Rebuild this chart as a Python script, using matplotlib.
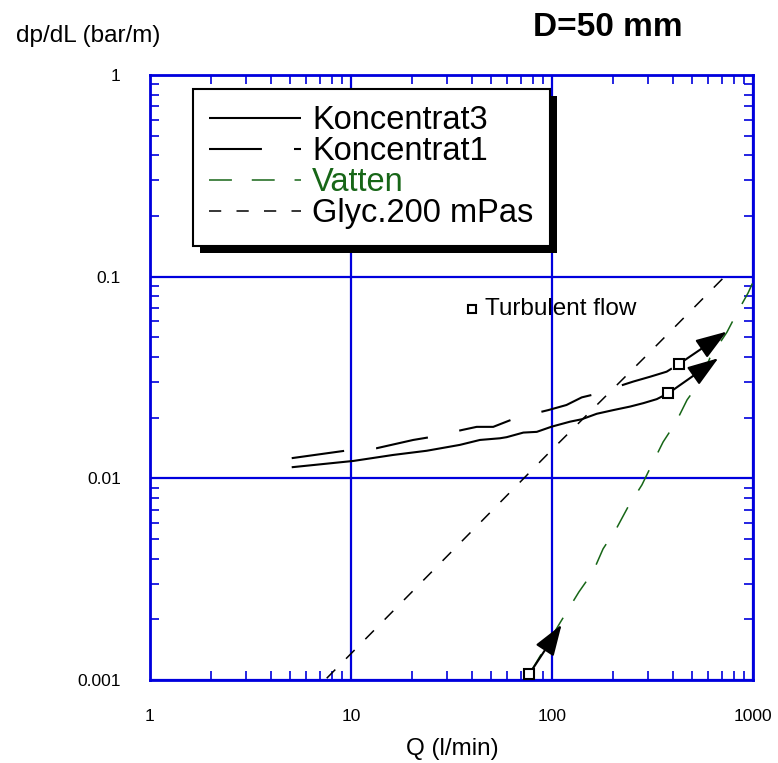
import matplotlib
matplotlib.use('Agg')
import matplotlib.pyplot as plt
from matplotlib.patches import Rectangle
from matplotlib.ticker import FixedLocator, FixedFormatter, LogLocator

plt.rcParams['font.family'] = ['Liberation Sans', 'DejaVu Sans']

# ---------------- data ----------------
k3_q = [5.07, 10.3, 16.2, 23.8, 34.8, 43.8, 55.1, 59.5, 72, 84, 99.6, 123, 140.6, 167, 202, 245, 285, 332, 379]
k3_dp = [0.01135, 0.0122, 0.01306, 0.0137, 0.01465, 0.0155, 0.0158, 0.0160, 0.01686, 0.0170, 0.01804,
         0.0191, 0.01963, 0.0209, 0.0218, 0.0227, 0.0236, 0.0247, 0.0264]

k1_q = [5.07, 9.33, 13.4, 20.4, 24.7, 36, 42.2, 51, 66, 95.9, 118, 140.6, 157.5, 254, 307.6, 372, 428.5]
k1_dp = [0.01259, 0.0137, 0.0141, 0.0155, 0.0160, 0.0174, 0.0180, 0.0180, 0.0199, 0.0218, 0.0231,
         0.0252, 0.0259, 0.0302, 0.0319, 0.0338, 0.0369]

vat_q = [77.1, 109.6, 136, 160, 179.5, 210, 239, 280, 315, 357, 414, 470, 545, 611, 743, 832, 945, 1000]
vat_dp = [0.00107, 0.00192, 0.00273, 0.00344, 0.00447, 0.00568, 0.00722, 0.00927, 0.01178, 0.01514,
          0.0190, 0.0245, 0.0301, 0.0396, 0.0532, 0.0661, 0.0830, 0.094]

gly_q = [7.57, 20, 100, 300, 717]
gly_dp = [0.00102, 0.00272, 0.01387, 0.0413, 0.0993]

turb_q = [77.1, 379, 428.5]
turb_dp = [0.00107, 0.0264, 0.0369]
arrow_q = [111.6, 672, 740]
arrow_dp = [0.00188, 0.0394, 0.0534]

x_ticks = [1, 10, 100, 1000]
x_labels = ['1', '10', '100', '1000']
y_ticks = [0.001, 0.01, 0.1, 1]
y_labels = ['0.001', '0.01', '0.1', '1']

series_labels = ['Koncentrat3', 'Koncentrat1', 'Vatten', 'Glyc.200 mPas']

# ---------------- styling ----------------
BLUE = '#0000DD'
GREEN = '#176617'

fig = plt.figure(figsize=(7.78, 7.63), dpi=100)
ax = fig.add_axes([150 / 778, 83 / 763, 603 / 778, 605 / 763])
ax.set_xscale('log')
ax.set_yscale('log')

l3, = ax.plot(k3_q, k3_dp, color='k', lw=1.5, solid_capstyle='butt', zorder=3)
l1, = ax.plot(k1_q, k1_dp, color='k', lw=1.5, linestyle=(0, (25.4, 15.4)), zorder=3)
lv, = ax.plot(vat_q, vat_dp, color=GREEN, lw=1.1, linestyle=(0, (15, 13)), zorder=3)
lg, = ax.plot(gly_q, gly_dp, color='k', lw=1.1, linestyle=(0, (8, 10)), zorder=3)

for q0, d0, q1, d1 in zip(turb_q, turb_dp, arrow_q, arrow_dp):
    ax.annotate('', xy=(q1, d1), xytext=(q0, d0),
                arrowprops=dict(arrowstyle='-|>,head_length=1.6,head_width=0.55',
                                mutation_scale=12, color='k', lw=1.5,
                                shrinkA=4, shrinkB=0), zorder=4)
ax.plot(turb_q, turb_dp, 's', ms=7.5, mfc='white', mec='k', mew=1.5, zorder=5, clip_on=False)

ax.set_xlim(1, 1000)
ax.set_ylim(0.001, 1)

ax.xaxis.set_major_locator(FixedLocator(x_ticks))
ax.xaxis.set_major_formatter(FixedFormatter(x_labels))
ax.yaxis.set_major_locator(FixedLocator(y_ticks))
ax.yaxis.set_major_formatter(FixedFormatter(y_labels))
ax.xaxis.set_minor_locator(LogLocator(base=10, subs=range(2, 10)))
ax.yaxis.set_minor_locator(LogLocator(base=10, subs=range(2, 10)))
ax.xaxis.set_minor_formatter(FixedFormatter([]))
ax.yaxis.set_minor_formatter(FixedFormatter([]))

ax.tick_params(which='both', direction='in', top=True, right=True, color=BLUE, width=1.2)
ax.tick_params(which='minor', length=6.5)
ax.tick_params(which='major', length=0, labelsize=12.5, pad=21)

ax.grid(True, which='major', color=BLUE, lw=1.6)
for s in ax.spines.values():
    s.set_color(BLUE)
    s.set_linewidth(2)

# turbulent flow marker/text
ax.plot([0.5335], [0.614], 's', transform=ax.transAxes, ms=6, mfc='white', mec='k', mew=1.5, zorder=5)
ax.text(0.556, 0.614, 'Turbulent flow', transform=ax.transAxes, fontsize=17.5, va='center', ha='left')

leg = ax.legend([l3, l1, lv, lg], series_labels, loc='upper left', bbox_to_anchor=(0.0713, 0.977),
                borderaxespad=0, fontsize=23.5, handlelength=2.8, handletextpad=0.35,
                labelspacing=0.0, borderpad=0.5, fancybox=False, framealpha=1,
                edgecolor='k')
leg.get_frame().set_linewidth(1.5)
leg.set_zorder(10)
leg.get_texts()[2].set_color(GREEN)

fig.text(608 / 778, 1 - 27 / 763, 'D=50 mm', ha='center', va='center', fontsize=24, fontweight='bold')
fig.text(88 / 778, 1 - 36 / 763, 'dp/dL (bar/m)', ha='center', va='center', fontsize=17.5)
fig.text(452 / 778, 1 - 749 / 763, 'Q (l/min)', ha='center', va='center', fontsize=17.5)

fig.canvas.draw()
bb = leg.get_window_extent().transformed(ax.transAxes.inverted())
dx = 7 / 603
dy = 7 / 605
shadow = Rectangle((bb.x0 + dx, bb.y0 - dy), bb.width, bb.height, transform=ax.transAxes,
                   facecolor='k', edgecolor='none', zorder=9, clip_on=False)
ax.add_artist(shadow)

fig.savefig('out.png', dpi=100)
